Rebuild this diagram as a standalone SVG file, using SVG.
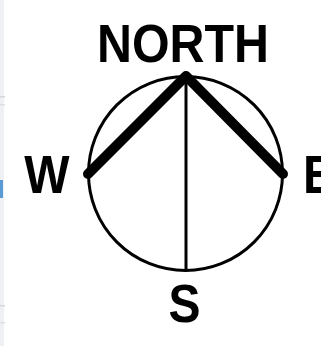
<svg xmlns="http://www.w3.org/2000/svg" width="321" height="346" viewBox="0 0 321 346">
<style>
.lbl{font-family:"Liberation Sans",Arial,sans-serif;font-weight:bold;font-size:48px;fill:#000}
.thick{stroke:#000;stroke-width:10;stroke-linecap:round;fill:none}
.thin{stroke:#000;stroke-width:3;fill:none}
</style>
<rect width="321" height="346" fill="#fff"/>
<g id="edge">
<rect x="0" y="0" width="4" height="346" fill="#eef0f3"/>
<rect x="0" y="96" width="5" height="1.5" fill="#d5d8dc"/>
<rect x="0" y="104" width="5" height="1.5" fill="#dde0e4"/>
<rect x="0" y="180" width="3" height="18" fill="#5b9bd5"/>
<rect x="0" y="305" width="5" height="1.5" fill="#d5d8dc"/>
<rect x="0" y="322" width="5" height="1.5" fill="#dde0e4"/>
</g>
<g id="compass">
<circle cx="185.5" cy="173.5" r="97" class="thin"/>
</g>
<g id="connectors">
<line x1="186" y1="77" x2="186" y2="271" class="thin"/>
<polyline points="88,174 186,76 283,174" class="thick" stroke-linejoin="round"/>
</g>
<g id="north"><text class="lbl" x="183" y="61.5" text-anchor="middle" transform="translate(0,-6) scale(1,1.1)" textLength="172" lengthAdjust="spacingAndGlyphs">NORTH</text></g>
<g id="west"><text class="lbl" x="47" y="193" text-anchor="middle" transform="translate(0,-19.3) scale(1,1.1)">W</text></g>
<g id="east"><text class="lbl" x="303" y="193" transform="translate(0,-19.3) scale(1,1.1)">E</text></g>
<g id="south"><text class="lbl" x="184.5" y="322" text-anchor="middle" transform="translate(0,-32.2) scale(1,1.1)">S</text></g>
</svg>
